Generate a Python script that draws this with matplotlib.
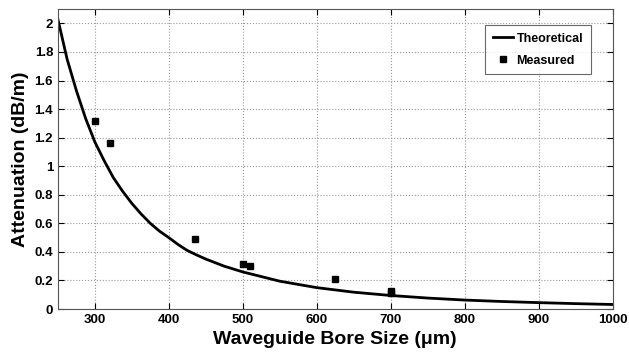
import matplotlib
matplotlib.use('Agg')
import matplotlib.pyplot as plt

plt.rcParams.update({'font.family': 'Liberation Sans', 'font.weight': 'bold'})

# Theoretical curve, values
bore_theory = [250, 262.5, 275, 287.5, 300, 312.5, 325, 337.5, 350, 362.5, 375, 387.5,
               400, 412.5, 425, 437.5, 450, 475, 500, 550, 600, 650, 700, 750, 800,
               850, 900, 950, 1000]
atten_theory = [2.03, 1.75, 1.53, 1.335, 1.17, 1.04, 0.92, 0.825, 0.74, 0.666, 0.60, 0.545,
                0.50, 0.452, 0.41, 0.379, 0.35, 0.30, 0.26, 0.195, 0.15, 0.118, 0.095,
                0.077, 0.063, 0.053, 0.045, 0.038, 0.032]

# Measured points
bore_meas = [300, 320, 435, 500, 510, 625, 700, 700]
atten_meas = [1.32, 1.16, 0.49, 0.315, 0.30, 0.21, 0.125, 0.11]

fig = plt.figure(figsize=(6.29, 3.52), dpi=100)
ax = fig.add_axes([0.092, 0.122, 0.882, 0.852])

ax.plot(bore_theory, atten_theory, color='black', linewidth=2, label='Theoretical')
ax.plot(bore_meas, atten_meas, linestyle='none', marker='s', markersize=5,
        color='black', label='Measured')

ax.set_xlim(250, 1000)
ax.set_ylim(0, 2.1)
ax.set_xticks(range(300, 1001, 100))
ax.set_yticks([0, 0.2, 0.4, 0.6, 0.8, 1, 1.2, 1.4, 1.6, 1.8, 2])
ax.set_yticklabels(['0', '0.2', '0.4', '0.6', '0.8', '1', '1.2', '1.4', '1.6', '1.8', '2'])
ax.grid(True, linestyle=':', color='#999999', linewidth=0.8)
ax.tick_params(direction='in', top=True, right=True, labelsize=9.5, length=4)
for lbl in ax.get_xticklabels() + ax.get_yticklabels():
    lbl.set_fontweight('bold')
for sp in ax.spines.values():
    sp.set_color('#555555')

ax.set_xlabel('Waveguide Bore Size (\u03bcm)', fontsize=14, fontweight='bold')
ax.set_ylabel('Attenuation (dB/m)', fontsize=14, fontweight='bold')

leg = ax.legend(loc='upper right', bbox_to_anchor=(0.965, 0.955), fancybox=False,
                edgecolor='#444444', prop={'weight': 'bold', 'size': 9},
                handlelength=1.6, handletextpad=0.3, borderpad=0.6,
                labelspacing=0.8, borderaxespad=0.2)
leg.get_frame().set_linewidth(0.8)

fig.savefig('out.png', dpi=100)
